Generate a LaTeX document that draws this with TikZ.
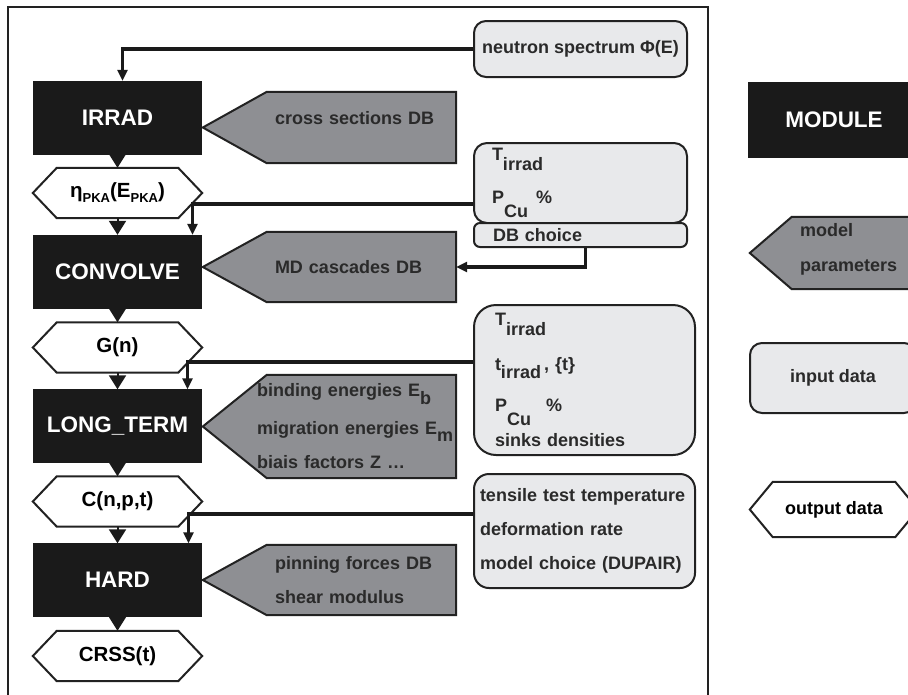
\documentclass[tikz,border=0pt]{standalone}
\usepackage{fontspec}
\setmainfont{Liberation Sans}
\usetikzlibrary{arrows.meta,calc,backgrounds}

\definecolor{modblack}{HTML}{1A1A1A}
\definecolor{pargrey}{HTML}{8E8F93}
\definecolor{inlight}{HTML}{E8E9EB}
\definecolor{edge}{HTML}{222222}
\definecolor{txtdark}{HTML}{2A2A2A}

\tikzset{
  module/.style = {fill = modblack, draw = modblack, text = white, minimum width = 168pt, minimum height = 73pt, inner sep = 0pt, font = \fontsize{22.5}{27}\selectfont\bfseries},
  outdata/.style = {minimum width = 169pt, minimum height = 50pt, inner sep = 0pt, font = \fontsize{20.5}{24}\selectfont\bfseries},
  param/.style = {inner xsep = 8pt, inner ysep = 0pt, text = txtdark, align = left, font = \fontsize{18}{34}\selectfont\bfseries},
  indata/.style = {draw = edge, line width = 2pt, fill = inlight, rounded corners = 12pt, inner ysep = 0pt, text = txtdark, align = left, font = \fontsize{18}{34}\selectfont\bfseries},
  feed/.style = {line width = 3.3pt, draw = modblack, -{Triangle[width = 10pt, length = 11pt]}},
  flowtip/.style = {line width = 2pt, draw = modblack, fill = modblack, -{Triangle[width = 17pt, length = 14pt]}}
}

\begin{document}
\begin{tikzpicture}[x = 1pt, y = -1pt]
\path[use as bounding box] (0,0) rectangle (908,694);
\draw[line width = 2.5pt, edge] (8,700) -- (8,7) -- (708,7) -- (708,700);

\node[module] (irrad) at (117.5,117.5) {IRRAD};
\node[outdata] (eta) at (117.5,193) {η\raisebox{-5pt}{\fontsize{13}{13}\selectfont PKA}(E\raisebox{-5pt}{\fontsize{13}{13}\selectfont PKA})};
\node[module] (convolve) at (117.5,271.5) {CONVOLVE};
\node[outdata] (gn) at (117.5,347.5) {G(n)};
\node[module] (longterm) at (117.5,426) {LONG\_TERM};
\node[outdata] (cnpt) at (117.5,501.5) {C(n,p,t)};
\node[module] (hard) at (117.5,580) {HARD};
\node[outdata] (crss) at (117.5,656) {CRSS(t)};

\node[param, text width = 173pt, minimum height = 71pt, text depth = 20pt] (xsec) at (361.5,127.5) {cross sections DB};
\node[param, text width = 173pt, minimum height = 70pt] (mdc) at (361.5,267) {MD cascades DB};
\node[param, text width = 209pt, inner xsep = -10pt, minimum height = 103pt] (bind) at (361.5,426.5)
   {binding energies E\raisebox{-8pt}{b}\\[4pt] migration energies E\raisebox{-7pt}{m}\\ biais factors Z \ldots};
\node[param, text width = 173pt, minimum height = 70pt] (pin) at (361.5,580) {pinning forces DB\\ shear modulus};

\node[indata, minimum width = 213pt, minimum height = 56pt, align = center] (nspec) at (580.5,49) {neutron spectrum Φ(E)};
\node[indata, text width = 177pt, inner xsep = 18pt, minimum height = 80pt, rounded corners = 13pt] (tin1) at (580.5,183)
   {T\raisebox{-10pt}{irrad}\\[9pt] P\raisebox{-14pt}{Cu}\hspace{8pt}\%};
\node[indata, text width = 175pt, inner xsep = 19pt, minimum height = 24pt, rounded corners = 6pt, font = \fontsize{18}{20}\selectfont\bfseries] (dbc) at (580.5,235) {DB choice};
\node[indata, text width = 179pt, inner xsep = 21pt, minimum height = 150pt, rounded corners = 22pt] (tin2) at (584.5,380)
   {T\raisebox{-10pt}{irrad}\\[11pt] t\raisebox{-8pt}{irrad}\,, \{t\}\\[7pt] P\raisebox{-14pt}{Cu}\hspace{15pt}\%\\[1pt] sinks densities};
\node[indata, text width = 209pt, inner xsep = 6pt, minimum height = 114pt, rounded corners = 15pt] (tens) at (584.5,531)
   {tensile test temperature\\ deformation rate\\ model choice (DUPAIR)};

\node[module, minimum width = 172pt, minimum height = 75pt] (legmod) at (834,119.5) {MODULE};
\node[param, text width = 132pt, minimum height = 72pt, text depth = 46pt] (legpar) at (866,253) {model\\[1pt] parameters};
\node[indata, minimum width = 166pt, minimum height = 70pt, align = center] (legin) at (833,378) {input data};
\node[outdata, minimum width = 168pt, minimum height = 55pt, font = \fontsize{18}{22}\selectfont\bfseries] (legout) at (834,509.5) {output data};

\begin{scope}[on background layer]
\foreach \n/\d in {xsec/64, mdc/64, bind/64, pin/64, legpar/42}
   \draw[edge, line width = 2pt, fill = pargrey] (\n.north east) -- (\n.north west) -- ($(\n.west)+(-\d,0)$) -- (\n.south west) -- (\n.south east) -- cycle;
\foreach \n/\d in {eta/24, gn/24, cnpt/24, crss/24, legout/23}
   \draw[edge, line width = 2pt, fill = white] (\n.west) -- ($(\n.north west)+(\d,0)$) -- ($(\n.north east)+(-\d,0)$) -- (\n.east)
      -- ($(\n.south east)+(-\d,0)$) -- ($(\n.south west)+(\d,0)$) -- cycle;
\end{scope}

\foreach \a/\b in {irrad/eta, eta/convolve, convolve/gn, gn/longterm, longterm/cnpt, cnpt/hard, hard/crss}
   \draw[flowtip] (\a.south) -- (\b.north);

\draw[feed] (nspec.west) -| ($(irrad.north)+(5,0)$);
\draw[feed] ($(tin1.west)+(0,21)$) -| ($(convolve.north)+(75,0)$);
\draw[feed] ($(dbc.south)+(5,0)$) |- (mdc.east);
\draw[feed] ($(tin2.west)+(0,-18)$) -| ($(longterm.north)+(70,0)$);
\draw[feed] ($(tens.west)+(0,-17)$) -| ($(hard.north)+(71,0)$);
\end{tikzpicture}
\end{document}
